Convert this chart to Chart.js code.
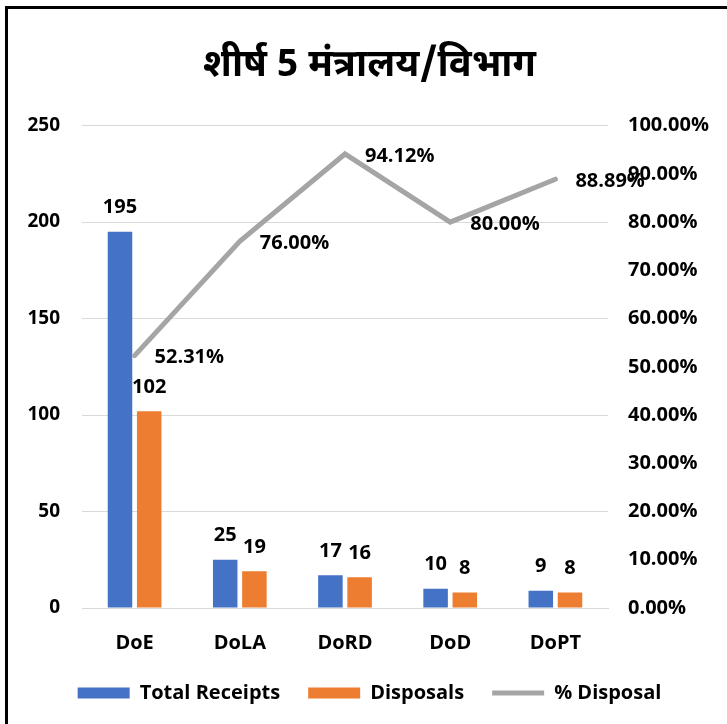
<!DOCTYPE html>
<html lang="hi">
<head>
    <meta charset="UTF-8">
    <title>शीर्ष 5 मंत्रालय/विभाग</title>
    <script src="https://cdn.jsdelivr.net/npm/chart.js"></script>
    <style>
        html, body { margin: 0; padding: 0; background: #fff; }
        .wrap { position: relative; width: 727px; height: 724px; overflow: hidden; }
        .frame {
            position: absolute; left: 5px; top: 6px; width: 760px; height: 760px;
            border-left: 3px solid #000; border-top: 3px solid #000;
        }
        canvas { position: absolute; left: 0; top: 0; }
    </style>
</head>
<body>
<div class="wrap">
    <div class="frame"></div>
    <canvas id="chart" width="727" height="724"></canvas>
</div>
<script>
    const categories = ['DoE', 'DoLA', 'DoRD', 'DoD', 'DoPT'];
    const totalReceipts = [195, 25, 17, 10, 9];
    const disposals = [102, 19, 16, 8, 8];
    const pctDisposal = [0.5231, 0.76, 0.9412, 0.80, 0.8889];

    const FONT = '"Open Sans", Lato, sans-serif';

    // value labels drawn next to bars and line points
    const valueLabels = {
        id: 'valueLabels',
        afterDatasetsDraw(chart) {
            const ctx = chart.ctx;
            ctx.save();
            ctx.font = `bold 20px ${FONT}`;
            ctx.fillStyle = '#000';
            chart.data.datasets.forEach((ds, i) => {
                const meta = chart.getDatasetMeta(i);
                meta.data.forEach((el, j) => {
                    ctx.textBaseline = 'middle';
                    if (ds.type === 'line') {
                        ctx.textAlign = 'left';
                        ctx.fillText((ds.data[j] * 100).toFixed(2) + '%', el.x + 20, el.y + 2);
                    } else {
                        ctx.textAlign = 'center';
                        ctx.fillText(ds.data[j], el.x, el.y - 24);
                    }
                });
            });
            ctx.restore();
        }
    };

    new Chart(document.getElementById('chart'), {
        type: 'bar',
        data: {
            labels: categories,
            datasets: [
                {
                    label: 'Total Receipts',
                    data: totalReceipts,
                    backgroundColor: '#4472C4',
                    pointStyle: 'rect',
                    yAxisID: 'y',
                    order: 1
                },
                {
                    label: 'Disposals',
                    data: disposals,
                    backgroundColor: '#ED7D31',
                    pointStyle: 'rect',
                    yAxisID: 'y',
                    order: 1
                },
                {
                    type: 'line',
                    label: '% Disposal',
                    data: pctDisposal,
                    borderColor: '#A5A5A5',
                    backgroundColor: '#A5A5A5',
                    borderWidth: 5,
                    borderCapStyle: 'round',
                    borderJoinStyle: 'miter',
                    pointRadius: 0,
                    pointStyle: 'line',
                    tension: 0,
                    yAxisID: 'y1',
                    order: 0
                }
            ]
        },
        options: {
            responsive: false,
            animation: false,
            categoryPercentage: 0.555,
            barPercentage: 0.84,
            layout: { padding: { left: 12, right: 0, top: 0, bottom: 11 } },
            plugins: {
                title: {
                    display: true,
                    text: 'शीर्ष 5 मंत्रालय/विभाग',
                    color: '#000',
                    font: { family: '"Noto Sans Devanagari", "Noto Sans", sans-serif', size: 38, weight: 'bold' },
                    padding: { top: 46, bottom: 34 }
                },
                legend: {
                    position: 'bottom',
                    labels: {
                        usePointStyle: true,
                        pointStyleWidth: 52,
                        boxHeight: 11,
                        padding: 28,
                        color: '#000',
                        sort: (a, b) => a.datasetIndex - b.datasetIndex,
                        font: { family: FONT, size: 20, weight: 'bold' }
                    }
                },
                tooltip: { enabled: false }
            },
            scales: {
                x: {
                    grid: { display: false },
                    border: { display: true, color: '#D9D9D9' },
                    ticks: { color: '#000', padding: 15, font: { family: FONT, size: 20, weight: 'bold' } },
                    afterFit(scale) { scale.height = 47; }
                },
                y: {
                    position: 'left',
                    min: 0,
                    max: 250,
                    ticks: { stepSize: 50, color: '#000', padding: 22, font: { family: FONT, size: 19, weight: 'bold' } },
                    grid: { color: '#D9D9D9', drawTicks: false },
                    border: { display: false },
                    afterFit(scale) { scale.width = 70; }
                },
                y1: {
                    position: 'right',
                    min: 0,
                    max: 1,
                    ticks: {
                        stepSize: 0.1,
                        color: '#000',
                        padding: 20,
                        font: { family: FONT, size: 20, weight: 'bold' },
                        callback: v => (v * 100).toFixed(2) + '%'
                    },
                    grid: { display: false, drawTicks: false },
                    border: { display: false },
                    afterFit(scale) { scale.width = 119; }
                }
            }
        },
        plugins: [valueLabels]
    });
</script>
</body>
</html>
